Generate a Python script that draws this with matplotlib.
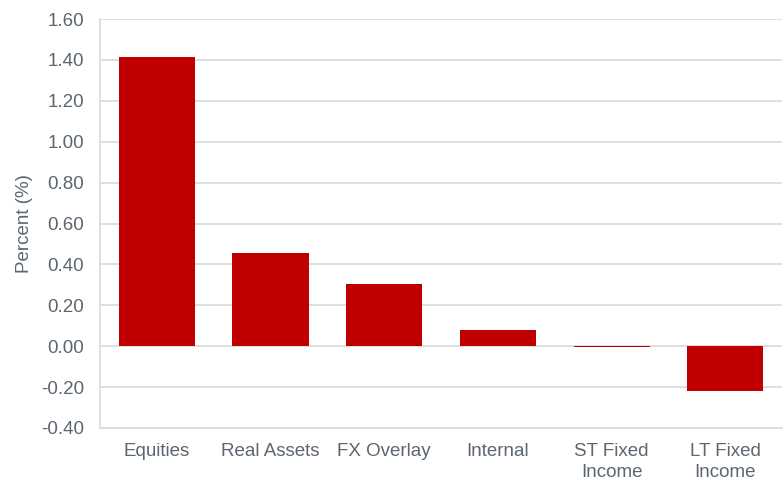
import matplotlib.pyplot as plt

categories = ["Equities", "Real Assets", "FX Overlay", "Internal", "ST Fixed\nIncome", "LT Fixed\nIncome"]
values = [1.413, 0.455, 0.303, 0.078, -0.004, -0.22]
yticks = [-0.4, -0.2, 0.0, 0.2, 0.4, 0.6, 0.8, 1.0, 1.2, 1.4, 1.6]

plt.rcParams["font.family"] = ["Liberation Sans", "DejaVu Sans"]
text_color = "#5b6670"
grid_color = "#d9d9d9"

fig = plt.figure(figsize=(7.83, 4.79), dpi=100)
ax = fig.add_axes([0.1277, 0.1065, 0.8713, 0.8538])

ax.bar(range(len(categories)), values, width=0.67, color="#c00000", zorder=3)

ax.set_ylim(-0.4, 1.6)
ax.set_xlim(-0.5, len(categories) - 0.5)
ax.set_yticks(yticks)
ax.set_yticklabels(["%.2f" % t for t in yticks])
ax.set_xticks(range(len(categories)))
ax.set_xticklabels(categories, linespacing=1.25)
ax.yaxis.grid(True, color=grid_color, linewidth=1.2, zorder=0)
ax.tick_params(axis="both", length=0, labelsize=13.5, labelcolor=text_color)
ax.tick_params(axis="x", pad=11)
ax.tick_params(axis="y", pad=11.5)
ax.set_ylabel("Percent (%)", fontsize=13.5, color=text_color, labelpad=6)

for side in ["top", "right"]:
    ax.spines[side].set_visible(False)
for side in ["left", "bottom"]:
    ax.spines[side].set_color(grid_color)
    ax.spines[side].set_linewidth(1.2)

fig.savefig("out.png", dpi=100)
